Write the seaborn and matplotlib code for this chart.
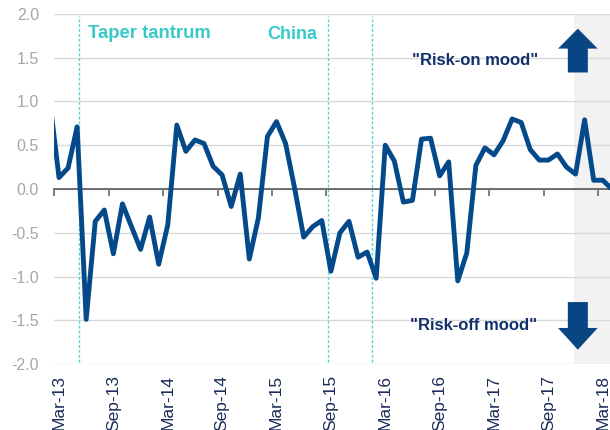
import matplotlib
matplotlib.use("Agg")
import matplotlib.pyplot as plt
from matplotlib.patches import FancyArrow
import numpy as np
import pandas as pd
import seaborn as sns

# Monthly risk-sentiment index, Feb-13 .. Apr-18 (axis shows Mar-13 .. Mar-18)
months = pd.date_range("2013-02-01", "2018-04-01", freq="MS")
values = [
    1.00,                                                            # Feb-13
    0.13, 0.24, 0.71, -1.49, -0.37, -0.24, -0.74, -0.17, -0.43, -0.69,  # Mar-13 .. Dec-13
    -0.32, -0.86, -0.41, 0.73, 0.43, 0.56, 0.52, 0.26, 0.16, -0.20,     # Jan-14 .. Oct-14
    0.17, -0.80, -0.33, 0.60, 0.77, 0.52, 0.01, -0.55, -0.43, -0.36,    # Nov-14 .. Aug-15
    -0.94, -0.50, -0.37, -0.78, -0.72, -1.02, 0.50, 0.32, -0.15, -0.13, # Sep-15 .. Jun-16
    0.57, 0.58, 0.15, 0.31, -1.05, -0.73, 0.27, 0.47, 0.39, 0.55,       # Jul-16 .. Apr-17
    0.80, 0.76, 0.45, 0.33, 0.33, 0.40, 0.25, 0.17, 0.79, 0.10,         # May-17 .. Feb-18
    0.10, 0.00,                                                      # Mar-18 .. Apr-18
]
tick_labels = ["Mar-13", "Sep-13", "Mar-14", "Sep-14", "Mar-15", "Sep-15",
               "Mar-16", "Sep-16", "Mar-17", "Sep-17", "Mar-18"]
event_names = ["Taper tantrum", "China"]
event_positions = [2.26, 29.63, 34.51]   # in months after Mar-13
shade_start = 56.85                      # months after Mar-13
y_ticks = [-2.0, -1.5, -1.0, -0.5, 0.0, 0.5, 1.0, 1.5, 2.0]

df = pd.DataFrame({"month": months, "value": values})
df["pos"] = np.arange(len(df)) - 1       # 0 = Mar-13

LINE = "#044a8a"
NAVY = "#12306b"
CYAN = "#38c9c9"
GRID = "#d9d9d9"

sns.set_theme(style="white")
plt.rcParams["font.family"] = ["Liberation Sans", "DejaVu Sans"]

fig = plt.figure(figsize=(6.1, 4.3), dpi=100)
ax = fig.add_axes([0.089, 0.1526, 0.911, 0.8158])

x_left, x_right = -0.52, 60.8
ax.set_xlim(x_left, x_right)
ax.set_ylim(-2.004, 2.004)

# shaded latest period
ax.axvspan(shade_start, x_right + 1, color="#f2f2f2", zorder=0, lw=0)

# horizontal gridlines
ax.set_axisbelow(True)
ax.set_yticks(y_ticks)
ax.set_yticklabels([f"{v:.1f}" for v in y_ticks])
ax.yaxis.grid(True, color=GRID, lw=1.0)
ax.xaxis.grid(False)

# event markers
for xp in event_positions:
    ax.axvline(xp, ymin=0.006, ymax=0.994, color="#52d3d3", lw=1.0,
               ls=(0, (2, 1.5)), zorder=2)

sns.lineplot(data=df, x="pos", y="value", ax=ax, color=LINE, lw=3.5,
             solid_joinstyle="round", solid_capstyle="round", zorder=3)

# zero axis line with category-boundary ticks
for s in ["top", "right", "left"]:
    ax.spines[s].set_visible(False)
ax.spines["bottom"].set_position(("data", 0))
ax.spines["bottom"].set_color("#595959")
ax.spines["bottom"].set_linewidth(1.2)
ax.spines["bottom"].set_zorder(2.5)
boundaries = np.arange(0, 61, 6) - 0.5
ax.set_xticks(boundaries)
ax.set_xticklabels([""] * len(boundaries))
ax.tick_params(axis="x", which="major", direction="out", length=5, width=1.1,
               color="#595959", bottom=True)
ax.tick_params(axis="y", length=0, pad=11, labelsize=11.5, labelcolor="#a6a6a6")
ax.set_xlabel("")
ax.set_ylabel("")

# month labels along the bottom edge
sec = ax.secondary_xaxis("bottom")
sec.set_xticks(np.arange(0, 61, 6), labels=tick_labels)
sec.spines["bottom"].set_visible(False)
sec.tick_params(length=0, pad=7.5, labelsize=12.5, labelcolor="#1a2b57",
                labelrotation=90)

# annotations
ax.text(3.23, 1.726, event_names[0], color=CYAN, fontsize=13.3, fontweight="bold",
        ha="left", va="baseline", zorder=4)
ax.text(23.0, 1.71, event_names[1], color=CYAN, fontsize=13, fontweight="bold",
        ha="left", va="baseline", zorder=4)
ax.text(39.0, 1.414, '"Risk-on mood"', color=NAVY, fontsize=12, fontweight="bold",
        ha="left", va="baseline", zorder=4)
ax.text(38.75, -1.61, '"Risk-off mood"', color=NAVY, fontsize=12, fontweight="bold",
        ha="left", va="baseline", zorder=4)

ARROW = "#0a4583"
ax.add_patch(FancyArrow(57.25, 1.331, 0, 0.501, width=2.21, head_width=4.37,
                        head_length=0.228, length_includes_head=True,
                        color=ARROW, lw=0, zorder=4))
ax.add_patch(FancyArrow(57.25, -1.292, 0, -0.544, width=2.21, head_width=4.37,
                        head_length=0.248, length_includes_head=True,
                        color=ARROW, lw=0, zorder=4))

fig.savefig("out.png", dpi=100)
